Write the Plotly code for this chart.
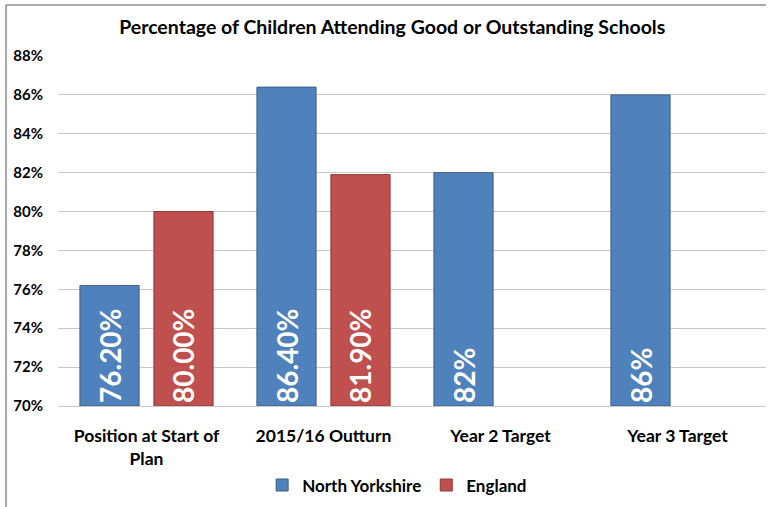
import plotly.graph_objects as go

categories = ["Position at Start of<br>Plan", "2015/16 Outturn", "Year 2 Target", "Year 3 Target"]
north_yorkshire = [76.2, 86.4, 82.0, 86.0]
england = [80.0, 81.9, None, None]
ny_labels = ["76.20%", "86.40%", "82%", "86%"]
eng_labels = ["80.00%", "81.90%", "", ""]
y_ticks = [70, 72, 74, 76, 78, 80, 82, 84, 86, 88]
axis_base = 70

FONT = "Lato"


def lengths(vals):
    return [None if v is None else v - axis_base for v in vals]


fig = go.Figure()
fig.add_trace(go.Bar(
    name="<b>North Yorkshire</b>", x=categories, y=lengths(north_yorkshire), base=axis_base,
    marker=dict(color="#4F81BD", line=dict(color="#3F5F86", width=1)),
    text=ny_labels, textposition="inside", textangle=-90, insidetextanchor="start",
    textfont=dict(family=FONT, size=28, color="white", weight="bold"),
))
fig.add_trace(go.Bar(
    name="<b>England</b>", x=categories, y=lengths(england), base=axis_base,
    marker=dict(color="#C0504D", line=dict(color="#8C3A38", width=1)),
    text=eng_labels, textposition="inside", textangle=-90, insidetextanchor="start",
    textfont=dict(family=FONT, size=28, color="white", weight="bold"),
))

fig.update_layout(
    width=769, height=507,
    margin=dict(l=58, r=3, t=56, b=97),
    paper_bgcolor="white", plot_bgcolor="white",
    barmode="group", bargap=0.164, bargroupgap=0.2,
    title=dict(text="<b>Percentage of Children Attending Good or Outstanding Schools</b>",
               x=0.51, xanchor="center", y=0.947, yanchor="middle",
               font=dict(family=FONT, size=19.5, color="black")),
    legend=dict(orientation="h", x=0.479, xanchor="center", y=-0.227, yanchor="middle",
                font=dict(family=FONT, size=17, color="black"), itemwidth=30,
                traceorder="normal"),
    font=dict(family=FONT, color="black"),
    shapes=[
        dict(type="line", xref="paper", yref="paper", x0=-0.0734, x1=-0.0734, y0=1.146, y1=-0.5,
             line=dict(color="#8c8c8c", width=1.5)),
        dict(type="line", xref="paper", yref="paper", x0=-0.0734, x1=1.0, y0=1.146, y1=1.146,
             line=dict(color="#8c8c8c", width=1.5)),
    ],
)
fig.update_yaxes(
    range=[70, 88], tickvals=y_ticks, ticktext=[f"<b>{v}%</b>" for v in y_ticks],
    showgrid=True, gridcolor="#c8c8c8", gridwidth=1, zeroline=False,
    showline=False, ticklabelstandoff=14,
    tickfont=dict(family=FONT, size=15, color="black"),
)
fig.update_xaxes(
    tickvals=categories, ticktext=[f"<b>{c}</b>" for c in categories],
    showline=True, linecolor="#c8c8c8", ticks="", ticklabelstandoff=14,
    tickfont=dict(family=FONT, size=17.5, color="black"),
)

fig.write_html("out.html", config={"displayModeBar": False},
               post_script="document.body.style.margin='0';")
